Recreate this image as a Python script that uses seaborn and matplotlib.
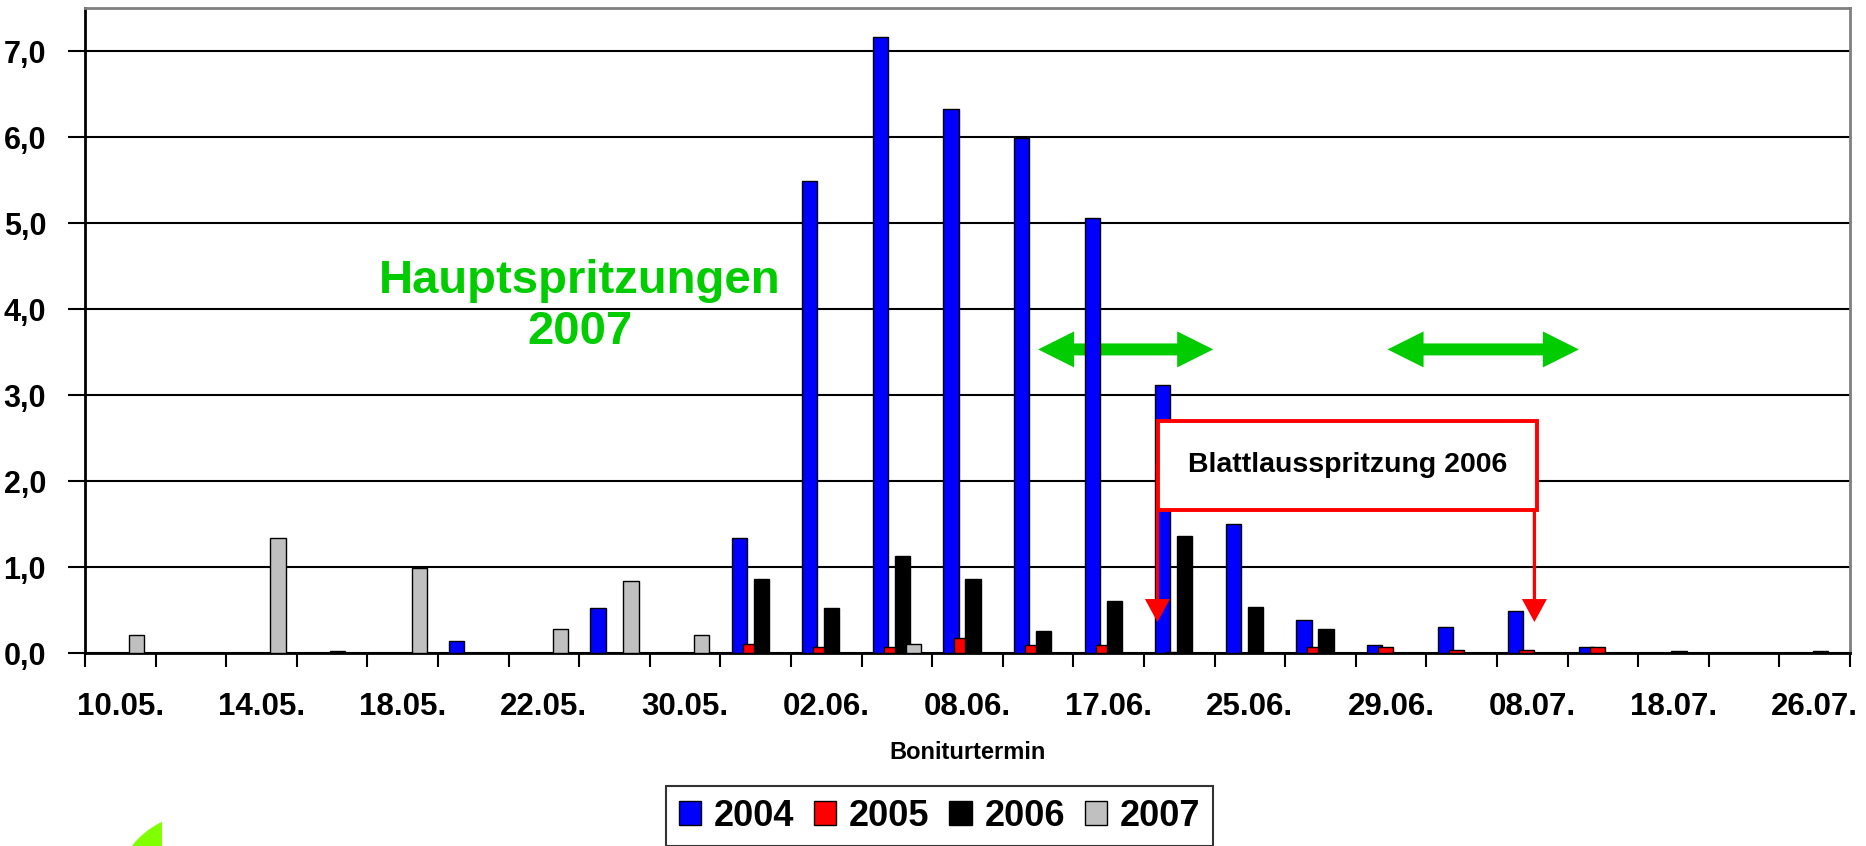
import numpy as np
import pandas as pd
import seaborn as sns
import matplotlib.pyplot as plt
from matplotlib.patches import Polygon, Rectangle, Circle
from matplotlib.transforms import Affine2D

# Boniturtermine (only every second one is labelled on the axis)
dates = ["10.05.", "12.05.", "14.05.", "16.05.", "18.05.", "20.05.", "22.05.",
         "26.05.", "30.05.", "31.05.", "02.06.", "05.06.", "08.06.", "12.06.",
         "17.06.", "21.06.", "25.06.", "27.06.", "29.06.", "04.07.", "08.07.",
         "13.07.", "18.07.", "22.07.", "26.07."]
years = ["2004", "2005", "2006", "2007"]

v2004 = [0, 0, 0, 0, 0, 0.14, 0, 0.52, 0, 1.34, 5.49, 7.16, 6.32, 5.99,
         5.06, 3.12, 1.50, 0.38, 0.09, 0.30, 0.49, 0.07, 0, 0, 0]
v2005 = [0, 0, 0, 0, 0, 0, 0, 0, 0, 0.11, 0.07, 0.07, 0.18, 0.09,
         0.09, 0.01, 0, 0.07, 0.07, 0.04, 0.04, 0.07, 0, 0, 0]
v2006 = [0, 0, 0, 0.02, 0, 0, 0, 0, 0, 0.86, 0.52, 1.13, 0.86, 0.26,
         0.61, 1.36, 0.54, 0.28, 0, 0, 0, 0, 0.02, 0, 0.02]
v2007 = [0.21, 0, 1.34, 0, 0.99, 0, 0.28, 0.84, 0.21, 0, 0, 0.11, 0, 0,
         0, 0, 0, 0, 0, 0, 0, 0, 0, 0, 0]
colors = ["#0000FF", "#FF0000", "#000000", "#C0C0C0"]

df = pd.DataFrame({
    "Boniturtermin": dates * 4,
    "Jahr": np.repeat(years, len(dates)),
    "Wert": v2004 + v2005 + v2006 + v2007,
})

W, H = 1866, 846
sns.set_style("ticks")
plt.rcParams["font.family"] = ["Liberation Sans", "DejaVu Sans"]
plt.rcParams["font.weight"] = "bold"
plt.rcParams["text.color"] = "black"
plt.rcParams["axes.labelcolor"] = "black"
plt.rcParams["xtick.color"] = "black"
plt.rcParams["ytick.color"] = "black"

fig = plt.figure(figsize=(W / 100, H / 100), dpi=100)
ax = fig.add_axes([85 / W, 193 / H, 1765 / W, 645 / H])

sns.barplot(data=df, x="Boniturtermin", y="Wert", hue="Jahr", order=dates,
            hue_order=years, palette=colors, saturation=1, width=0.625, gap=0,
            edgecolor="black", linewidth=1, errorbar=None, legend=False,
            ax=ax, zorder=3)

# Excel-style slightly overlapping bars
for cont in ax.containers:
    for p in cont.patches:
        cx = p.get_x() + p.get_width() / 2
        p.set_width(0.215)
        p.set_x(cx - 0.1075)

ax.set_xlim(-0.5, len(dates) - 0.5)
ax.set_ylim(0, 7.5)
yt = np.arange(0, 8)
ax.set_yticks(yt, labels=[f"{v:.1f}".replace(".", ",") for v in yt])
ax.yaxis.grid(True, color="black", lw=1.5)
ax.set_axisbelow(True)

ax.set_xticks(range(0, len(dates), 2), labels=dates[::2])
ax.set_xticks(np.arange(-0.5, len(dates)), minor=True)
ax.tick_params(axis="x", which="major", length=0, pad=28, labelsize=22.5)
ax.tick_params(axis="x", which="minor", length=10, width=1.5)
ax.tick_params(axis="y", length=12, width=1.5, pad=16, labelsize=22)
for lab in ax.get_xticklabels() + ax.get_yticklabels():
    lab.set_fontweight("bold")

ax.set_xlabel("Boniturtermin", fontsize=17, fontweight="bold", labelpad=14)
ax.set_ylabel("")

for s in ["left", "bottom"]:
    ax.spines[s].set_color("black")
    ax.spines[s].set_linewidth(2)
for s in ["top", "right"]:
    ax.spines[s].set_visible(True)
    ax.spines[s].set_color("#808080")
    ax.spines[s].set_linewidth(2)

# pixel sizes -> data units
ppx = 1765 / len(dates)
ppy = 645 / 7.5


def double_arrow(x0, x1, y, hl, hw, sw, color, z):
    hl, hw, sw = hl / ppx, hw / ppy, sw / ppy
    pts = [(x0, y), (x0 + hl, y + hw), (x0 + hl, y + sw), (x1 - hl, y + sw),
           (x1 - hl, y + hw), (x1, y), (x1 - hl, y - hw), (x1 - hl, y - sw),
           (x0 + hl, y - sw), (x0 + hl, y - hw)]
    ax.add_patch(Polygon(pts, closed=True, color=color, lw=0, zorder=z))


def down_arrow(x, y0, y1, hl, hw, sw, color, z):
    hl, hw, sw = hl / ppy, hw / ppx, sw / ppx
    pts = [(x - sw, y0), (x + sw, y0), (x + sw, y1 + hl), (x + hw, y1 + hl),
           (x, y1), (x - hw, y1 + hl), (x - sw, y1 + hl)]
    ax.add_patch(Polygon(pts, closed=True, color=color, lw=0, zorder=z))


green = "#00CC00"
ax.text(6.51, 4.03, "Hauptspritzungen\n2007", color=green, fontsize=34,
        fontweight="bold", ha="center", va="center", linespacing=1.2, zorder=6)
double_arrow(13.0, 15.48, 3.53, 36, 18, 6, green, 2)
double_arrow(17.95, 20.66, 3.53, 36, 18, 6, green, 2)

ax.add_patch(Rectangle((14.7, 1.66), 5.36, 1.04, facecolor="white",
                       edgecolor="#FF0000", lw=2.8, zorder=5))
ax.text(17.38, 2.19, "Blattlausspritzung 2006", fontsize=20.5,
        fontweight="bold", ha="center", va="center", zorder=6)
down_arrow(14.69, 2.19, 0.36, 23, 12.5, 1.6, "#FF0000", 6)
down_arrow(20.03, 1.66, 0.36, 23, 12.5, 1.6, "#FF0000", 6)

leg = fig.legend(handles=ax.containers, labels=years, loc="upper left",
                 bbox_to_anchor=(666 / W, 1 - 786 / H), ncol=4, fontsize=26,
                 frameon=True, fancybox=False, handlelength=0.62,
                 handleheight=0.62, handletextpad=0.35, columnspacing=0.55,
                 borderpad=0.35, borderaxespad=0)
leg.get_frame().set_edgecolor("black")
leg.get_frame().set_linewidth(1.5)
for t in leg.get_texts():
    t.set_fontweight("bold")

# lime shape cut off at the lower left
clip = Rectangle((0, 0), 162 / W, 1, transform=fig.transFigure)
circ = Circle((200, -54), 87, color="#80FF00", lw=0)
circ.set_transform(Affine2D().scale(1 / W, 1 / H) + fig.transFigure)
circ.set_clip_path(clip)
fig.add_artist(circ)

fig.savefig("out.png", dpi=100)
